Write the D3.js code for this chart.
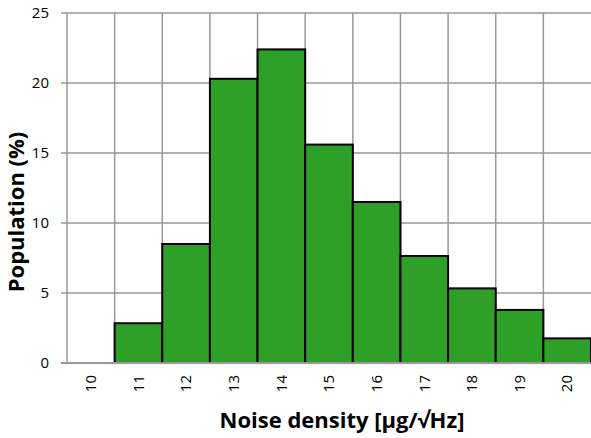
<!DOCTYPE html>
<html><head><meta charset="utf-8">
<script src="https://cdn.jsdelivr.net/npm/d3@7/dist/d3.min.js"></script>
<style>body{margin:0;background:#fff}svg{display:block}</style>
</head><body>
<script>
const categories = ["10","11","12","13","14","15","16","17","18","19","20"];
const values = [0, 2.84, 8.5, 20.3, 22.4, 15.6, 11.5, 7.64, 5.33, 3.79, 1.76];
const yTicks = [0, 5, 10, 15, 20, 25];

const W = 591, H = 438;
const m = {left: 67, right: 0, top: 13, bottom: 75};
const svg = d3.select("body").append("svg").attr("width", W).attr("height", H);
const x = d3.scaleBand().domain(categories).range([m.left, W - m.right]).padding(0);
const y = d3.scaleLinear().domain([0, 25]).range([H - m.bottom, m.top]);
const font = "Open Sans, Liberation Sans, sans-serif";

// horizontal gridlines
svg.append("g").selectAll("line").data(yTicks).join("line")
  .attr("x1", m.left - 6).attr("x2", W).attr("y1", d => y(d)).attr("y2", d => y(d))
  .attr("stroke", "#999").attr("stroke-width", 1.5);
// vertical gridlines
const bounds = categories.map(c => x(c));
svg.append("g").selectAll("line").data(bounds).join("line")
  .attr("x1", d => d).attr("x2", d => d).attr("y1", y(25)).attr("y2", y(0))
  .attr("stroke", "#999").attr("stroke-width", 1.5);

// bars
svg.append("g").selectAll("rect").data(values.map((v, i) => ({c: categories[i], v})).filter(d => d.v > 0)).join("rect")
  .attr("x", d => x(d.c)).attr("width", x.bandwidth())
  .attr("y", d => y(d.v)).attr("height", d => y(0) - y(d.v))
  .attr("fill", "#2ea028").attr("stroke", "#000").attr("stroke-width", 2);

// x axis line
svg.append("line").attr("x1", m.left - 6).attr("x2", W).attr("y1", y(0)).attr("y2", y(0))
  .attr("stroke", "#999").attr("stroke-width", 2);

// y tick labels
svg.append("g").selectAll("text").data(yTicks).join("text")
  .attr("x", 49).attr("y", d => y(d)).attr("dy", "0.35em").attr("text-anchor", "end")
  .attr("font-family", font).attr("font-size", 15).attr("fill", "#000").text(d => d);

// x tick labels (rotated)
svg.append("g").selectAll("text").data(categories).join("text")
  .attr("transform", d => `translate(${x(d) + x.bandwidth() / 2},${y(0) + 12}) rotate(-90)`)
  .attr("text-anchor", "end").attr("dy", "0.35em")
  .attr("font-family", font).attr("font-size", 15).attr("fill", "#000").text(d => d);

// axis titles
svg.append("text").attr("x", 342).attr("y", 428)
  .attr("text-anchor", "middle").attr("font-family", font).attr("font-weight", "bold")
  .attr("font-size", 22).text("Noise density [µg/√Hz]");
svg.append("text").attr("transform", `translate(24,212) rotate(-90)`)
  .attr("text-anchor", "middle").attr("font-family", font).attr("font-weight", "bold")
  .attr("font-size", 22).text("Population (%)");
</script>
</body></html>
